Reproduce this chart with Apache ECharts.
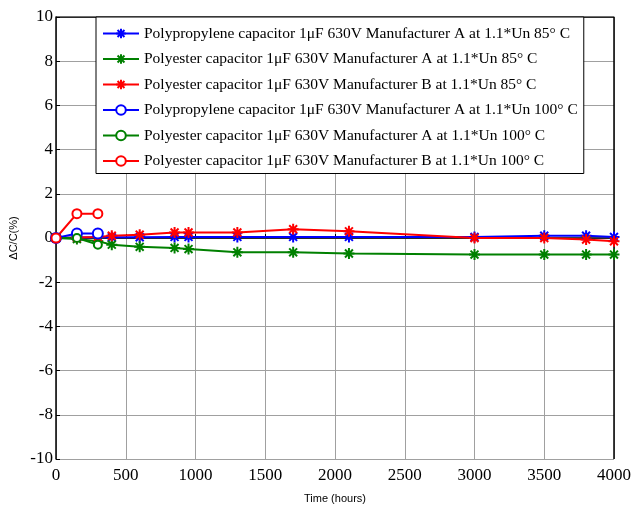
<!DOCTYPE html>
<html>
<head>
<meta charset="utf-8">
<script src="https://cdn.jsdelivr.net/npm/echarts@6/dist/echarts.min.js"></script>
<style>
  html, body { margin: 0; padding: 0; background: #fff; }
  #chart { width: 634px; height: 509px; }
</style>
</head>
<body>
<div id="chart"></div>
<script>
// hours for the 85 °C runs and the 100 °C runs
const hours85 = [0, 150, 300, 400, 600, 850, 950, 1300, 1700, 2100, 3000, 3500, 3800, 4000]
const hours100 = [0, 150, 300]

// ΔC/C (%)
const ppA85 = [0, 0.02, 0.03, 0.03, 0.03, 0.05, 0.05, 0.05, 0.05, 0.05, 0.05, 0.1, 0.1, 0.05]
const peA85 = [0, -0.05, -0.15, -0.3, -0.4, -0.45, -0.5, -0.65, -0.65, -0.7, -0.75, -0.75, -0.75, -0.75]
const peB85 = [0, 0.02, 0.05, 0.1, 0.15, 0.25, 0.25, 0.25, 0.4, 0.3, 0, 0, -0.07, -0.15]
const ppA100 = [0, 0.2, 0.2]
const peA100 = [0, 0, -0.3]
const peB100 = [0, 1.1, 1.1]

const seriesNames = [
  'Polypropylene capacitor 1μF 630V Manufacturer A at 1.1*Un 85° C',
  'Polyester capacitor 1μF 630V Manufacturer A at 1.1*Un 85° C',
  'Polyester capacitor 1μF 630V Manufacturer B at 1.1*Un 85° C',
  'Polypropylene capacitor 1μF 630V Manufacturer A at 1.1*Un 100° C',
  'Polyester capacitor 1μF 630V Manufacturer A at 1.1*Un 100° C',
  'Polyester capacitor 1μF 630V Manufacturer B at 1.1*Un 100° C'
]
const yTicks = [-10, -8, -6, -4, -2, 0, 2, 4, 6, 8, 10]

const star = 'path://M0,-5L0,5M-5,0L5,0M-3.6,-3.6L3.6,3.6M-3.6,3.6L3.6,-3.6'
const serif = '"Liberation Serif", "DejaVu Serif", serif'

function pairs (xs, ys) {
  return xs.map((x, i) => [x, ys[i]])
}

function makeSeries (name, xs, ys, color, symbol, size) {
  const isStar = symbol === star
  return {
    name,
    type: 'line',
    data: pairs(xs, ys),
    symbol,
    symbolSize: size,
    showSymbol: true,
    lineStyle: { color, width: 2 },
    itemStyle: {
      color: isStar ? 'none' : '#fff',
      borderColor: color,
      borderWidth: 2
    },
    emphasis: { disabled: true },
    animation: false
  }
}

const chart = echarts.init(document.getElementById('chart'))
chart.setOption({
  backgroundColor: '#fff',
  grid: { left: 56, right: 16, top: 17, bottom: 43 },
  legend: {
    orient: 'vertical',
    left: 96,
    top: 17,
    padding: [8, 6, 4, 6],
    itemGap: 8.5,
    itemWidth: 36,
    itemHeight: 12,
    backgroundColor: '#fff',
    borderColor: '#000',
    borderWidth: 1,
    borderRadius: 0,
    textStyle: { fontFamily: serif, fontSize: 15.5, lineHeight: 17, color: '#000' },
    data: seriesNames
  },
  xAxis: {
    type: 'value',
    min: 0,
    max: 4000,
    interval: 500,
    name: 'Time (hours)',
    nameLocation: 'middle',
    nameGap: 34,
    nameTextStyle: { fontFamily: 'Liberation Sans, Arial, sans-serif', fontSize: 11, color: '#000' },
    axisLine: { show: true, lineStyle: { color: '#000', width: 1.5 } },
    axisTick: { show: true, inside: true, length: 4, lineStyle: { color: '#000' } },
    axisLabel: { fontFamily: serif, fontSize: 17, color: '#000', margin: 8, formatter: v => String(v) },
    splitLine: { show: true, lineStyle: { color: '#a0a0a0', width: 1 } }
  },
  yAxis: {
    type: 'value',
    min: yTicks[0],
    max: yTicks[yTicks.length - 1],
    interval: 2,
    name: 'ΔC/C(%)',
    nameLocation: 'middle',
    nameGap: 32,
    nameTextStyle: { fontFamily: 'Liberation Sans, Arial, sans-serif', fontSize: 11, color: '#000' },
    axisLine: { show: true, lineStyle: { color: '#000', width: 1.5 } },
    axisTick: { show: true, inside: true, length: 4, lineStyle: { color: '#000' } },
    axisLabel: { fontFamily: serif, fontSize: 17, color: '#000', margin: 3 },
    splitLine: { show: true, lineStyle: { color: '#a0a0a0', width: 1 } }
  },
  series: [
    makeSeries(seriesNames[0], hours85, ppA85, '#0000ff', star, 11),
    makeSeries(seriesNames[1], hours85, peA85, '#008000', star, 11),
    makeSeries(seriesNames[2], hours85, peB85, '#ff0000', star, 11),
    makeSeries(seriesNames[3], hours100, ppA100, '#0000ff', 'circle', 10),
    makeSeries(seriesNames[4], hours100, peA100, '#008000', 'circle', 8),
    makeSeries(seriesNames[5], hours100, peB100, '#ff0000', 'circle', 9),
    {
      // box frame: top and right edges of the axes
      type: 'line',
      data: [[0, 10], [4000, 10], [4000, -10]],
      symbol: 'none',
      lineStyle: { color: '#000', width: 1.5 },
      silent: true,
      z: 1,
      animation: false
    }
  ]
})
</script>
</body>
</html>
